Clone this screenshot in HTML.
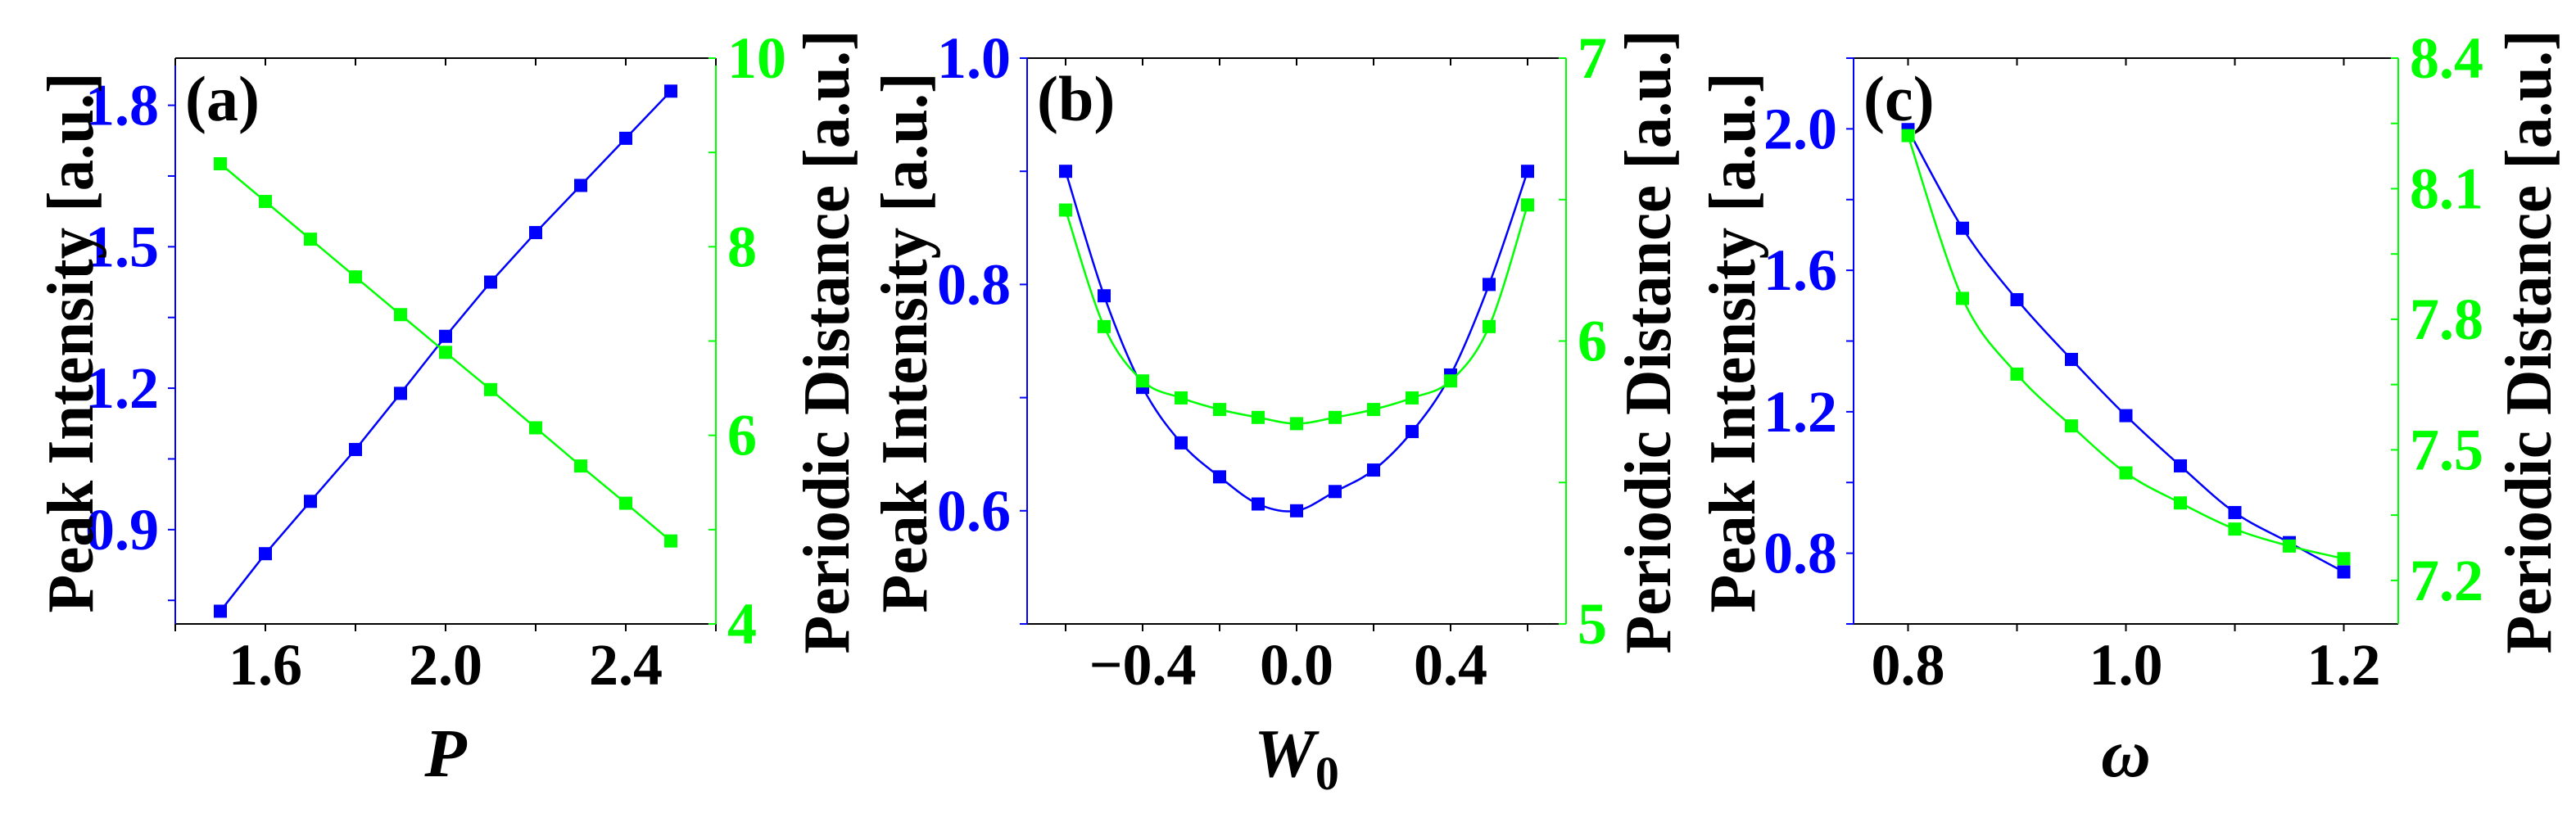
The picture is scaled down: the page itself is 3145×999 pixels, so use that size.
<!DOCTYPE html>
<html><head><meta charset="utf-8"><style>
html,body{margin:0;padding:0;background:#fff;}
svg text, svg tspan{font-family:"Liberation Serif","Times New Roman",Times,"DejaVu Serif",serif;font-weight:bold;}
</style></head><body>
<svg id="fig" width="3145" height="994" viewBox="0 0 3145 994" xmlns="http://www.w3.org/2000/svg"></svg>
<script>
// Panel (a)
const aX = [1.5,1.6,1.7,1.8,1.9,2.0,2.1,2.2,2.3,2.4,2.5];
const aPeak = [0.727,0.849,0.960,1.070,1.189,1.310,1.425,1.530,1.630,1.730,1.830];
const aDist = [8.88,8.48,8.08,7.68,7.28,6.88,6.485,6.08,5.675,5.28,4.88];
const aXTicks = ["1.6","2.0","2.4"];
const aLTicks = ["0.9","1.2","1.5","1.8"];
const aRTicks = ["4","6","8","10"];
// Panel (b)
const bX = [-0.6,-0.5,-0.4,-0.3,-0.2,-0.1,0.0,0.1,0.2,0.3,0.4,0.5,0.6];
const bPeak = [0.900,0.790,0.709,0.660,0.630,0.606,0.600,0.617,0.636,0.670,0.720,0.800,0.900];
const bDist = [6.463,6.051,5.859,5.799,5.758,5.730,5.708,5.730,5.758,5.799,5.859,6.051,6.481];
const bXTicks = ["\u22120.4","0.0","0.4"];
const bLTicks = ["0.6","0.8","1.0"];
const bRTicks = ["5","6","7"];
// Panel (c)
const cX = [0.80,0.85,0.90,0.95,1.00,1.05,1.10,1.15,1.20];
const cPeak = [1.998,1.719,1.517,1.348,1.189,1.047,0.915,0.830,0.747];
const cDist = [8.222,7.848,7.674,7.555,7.447,7.378,7.318,7.279,7.250];
const cXTicks = ["0.8","1.0","1.2"];
const cLTicks = ["0.8","1.2","1.6","2.0"];
const cRTicks = ["7.2","7.5","7.8","8.1","8.4"];

const NS="http://www.w3.org/2000/svg";
const svg=document.getElementById('fig');
const BLUE="#0000ff", GREEN="#00ff00";
function mk(tag,attrs,parent){const e=document.createElementNS(NS,tag);for(const k in attrs)e.setAttribute(k,attrs[k]);(parent||svg).appendChild(e);return e;}
function range(a,b,s){const r=[];for(let v=a;v<=b+1e-9;v+=s)r.push(+v.toFixed(6));return r;}
function smoothPath(pts){
  let d="M"+pts[0][0]+","+pts[0][1];
  for(let i=0;i<pts.length-1;i++){
    const p0=pts[Math.max(0,i-1)],p1=pts[i],p2=pts[i+1],p3=pts[Math.min(pts.length-1,i+2)];
    const c1=[p1[0]+(p2[0]-p0[0])/6,p1[1]+(p2[1]-p0[1])/6];
    const c2=[p2[0]-(p3[0]-p1[0])/6,p2[1]-(p3[1]-p1[1])/6];
    d+=" C"+c1[0]+","+c1[1]+" "+c2[0]+","+c2[1]+" "+p2[0]+","+p2[1];
  }
  return d;
}
function panel(cfg){
  const g=mk('g',{});
  
  
  const {L,R,T,B}=cfg;
  const sx=v=>L+(v-cfg.xr[0])/(cfg.xr[1]-cfg.xr[0])*(R-L);
  const syl=v=>B-(v-cfg.yl[0])/(cfg.yl[1]-cfg.yl[0])*(B-T);
  const syr=v=>B-(v-cfg.yr[0])/(cfg.yr[1]-cfg.yr[0])*(B-T);
  let e;
  e=mk('line',{x1:L,y1:T,x2:R,y2:T,stroke:'#000','stroke-width':2},g);
  
  e=mk('line',{x1:L,y1:B,x2:R,y2:B,stroke:'#000','stroke-width':2},g);
  
  e=mk('line',{x1:L,y1:T,x2:L,y2:B,stroke:BLUE,'stroke-width':2},g);
  
  e=mk('line',{x1:R,y1:T,x2:R,y2:B,stroke:GREEN,'stroke-width':2},g);
  
  range(cfg.xMinorStart,cfg.xr[1],cfg.xMinor).forEach(v=>{
    const x=sx(v);
    mk('line',{x1:x,y1:B,x2:x,y2:B+9,stroke:'#000','stroke-width':2},g);
    mk('line',{x1:x,y1:T,x2:x,y2:T+9,stroke:'#000','stroke-width':2},g);
  });
  cfg.xTicks.forEach(s=>{
    const v=parseFloat(s.replace('\u2212','-'));
    const t=mk('text',{x:sx(v),y:B+74,'text-anchor':'middle','font-size':72,fill:'#000'},g);
    t.textContent=s;
    
  });
  range(cfg.ylMinorStart,cfg.yl[1],cfg.ylMinor).forEach(v=>{
    const y=syl(v);
    mk('line',{x1:L-9,y1:y,x2:L,y2:y,stroke:BLUE,'stroke-width':2},g);
  });
  cfg.lTicks.forEach(s=>{
    const v=parseFloat(s);
    const t=mk('text',{x:L-20,y:syl(v)+24,'text-anchor':'end','font-size':72,fill:BLUE},g);
    t.textContent=s;
    
  });
  range(cfg.yrMinorStart,cfg.yr[1],cfg.yrMinor).forEach(v=>{
    const y=syr(v);
    mk('line',{x1:R-9,y1:y,x2:R,y2:y,stroke:GREEN,'stroke-width':2},g);
  });
  cfg.rTicks.forEach(s=>{
    const v=parseFloat(s);
    const t=mk('text',{x:R+14,y:syr(v)+24,'text-anchor':'start','font-size':72,fill:GREEN},g);
    t.textContent=s;
    
  });
  const series=[[cfg.peak,syl,BLUE,'peak-intensity'],[cfg.dist,syr,GREEN,'periodic-distance']];
  series.forEach(([vals,sy,col,nm])=>{
    const pts=cfg.x.map((xv,i)=>[sx(xv),sy(vals[i])]);
    const d=cfg.smooth?smoothPath(pts):"M"+pts.map(p=>p[0]+","+p[1]).join(" L");
    const p=mk('path',{d:d,fill:'none',stroke:col,'stroke-width':2.5},g);
    
    pts.forEach(pt=>{
      const r=mk('rect',{x:pt[0]-8,y:pt[1]-8,width:16,height:16,fill:col},g);
      
      
    });
  });
  e=mk('text',{x:L+12,y:T+76,'font-size':78,fill:'#000'},g);
  e.textContent=cfg.label;
  
  const mid=(T+B)/2;
  e=mk('text',{x:0,y:0,'text-anchor':'middle','font-size':80,fill:'#000',textLength:660,lengthAdjust:'spacingAndGlyphs',transform:`translate(${cfg.ltx},${mid+2}) rotate(-90)`},g);
  e.textContent='Peak Intensity [a.u.]';
  
  e=mk('text',{x:0,y:0,'text-anchor':'middle','font-size':80,fill:'#000',textLength:762,lengthAdjust:'spacingAndGlyphs',transform:`translate(${cfg.rtx},${mid+1}) rotate(-90)`},g);
  e.textContent='Periodic Distance [a.u.]';
  
  e=mk('text',{x:(L+R)/2,y:948,'text-anchor':'middle','font-size':84,'font-style':'italic',fill:'#000'},g);
  if(cfg.xsub){e.textContent=cfg.xtitle;const ts=mk('tspan',{'font-size':58,'font-style':'normal',dy:16},e);ts.textContent=cfg.xsub;}
  else e.textContent=cfg.xtitle;
  
}
panel({id:'a',label:'(a)',L:214,R:874,T:71,B:762,xr:[1.4,2.6],yl:[0.7,1.9],yr:[4,10],
  xMinorStart:1.4,xMinor:0.2,ylMinorStart:0.75,ylMinor:0.15,yrMinorStart:4,yrMinor:1,
  xTicks:aXTicks,lTicks:aLTicks,rTicks:aRTicks,x:aX,peak:aPeak,dist:aDist,smooth:false,
  ltx:113,rtx:1036,xtitle:'P'});
panel({id:'b',label:'(b)',L:1254,R:1912,T:71,B:762,xr:[-0.7,0.7],yl:[0.5,1.0],yr:[5,7],
  xMinorStart:-0.6,xMinor:0.2,ylMinorStart:0.5,ylMinor:0.1,yrMinorStart:5,yrMinor:0.5,
  xTicks:bXTicks,lTicks:bLTicks,rTicks:bRTicks,x:bX,peak:bPeak,dist:bDist,smooth:true,
  ltx:1131,rtx:2039,xtitle:'W',xsub:'0'});
panel({id:'c',label:'(c)',L:2263,R:2928,T:71,B:762,xr:[0.75,1.25],yl:[0.6,2.2],yr:[7.1,8.4],
  xMinorStart:0.8,xMinor:0.1,ylMinorStart:0.6,ylMinor:0.2,yrMinorStart:7.2,yrMinor:0.15,
  xTicks:cXTicks,lTicks:cLTicks,rTicks:cRTicks,x:cX,peak:cPeak,dist:cDist,smooth:true,
  ltx:2142,rtx:3114,xtitle:'\u03C9'});
</script>
</body></html>
